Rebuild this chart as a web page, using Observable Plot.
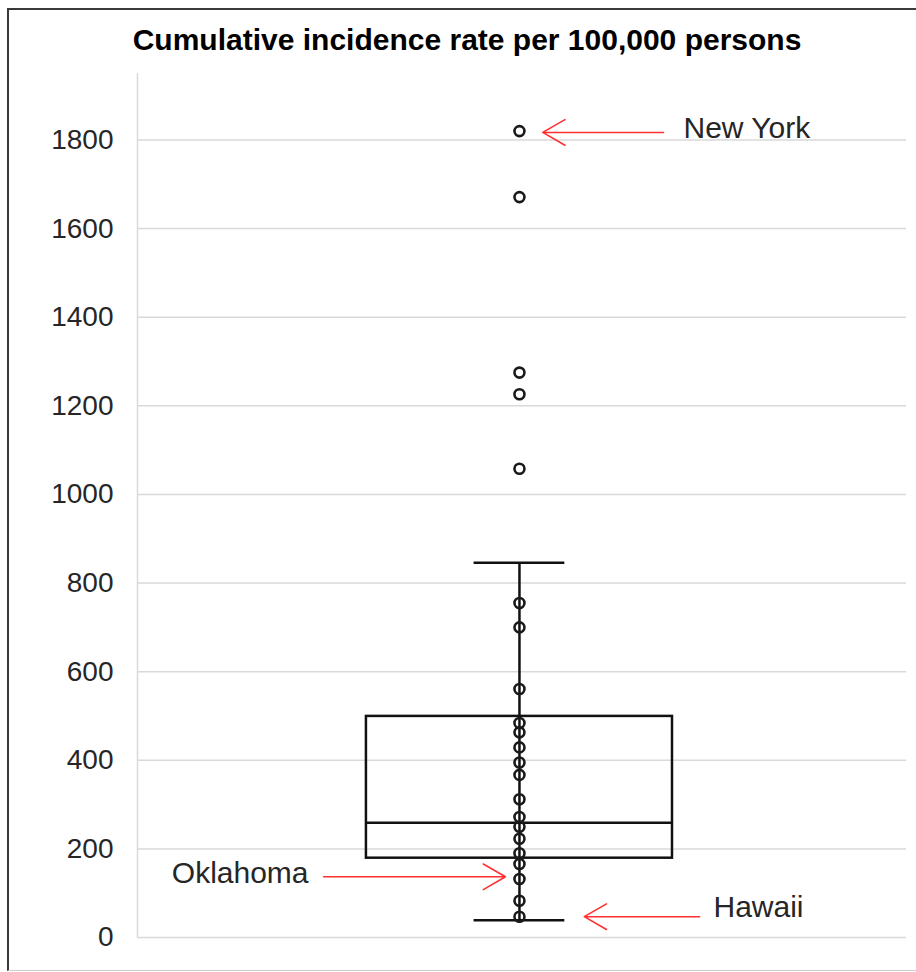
<!DOCTYPE html>
<html>
<head>
<meta charset="utf-8">
<script src="https://cdn.jsdelivr.net/npm/d3@7"></script>
<script src="https://cdn.jsdelivr.net/npm/@observablehq/plot@0.6"></script>
<style>
  html, body { margin: 0; padding: 0; background: #fff; }
  #wrap { position: relative; width: 916px; height: 972px; overflow: hidden; background: #fff; }
  #wrap svg { position: absolute; left: 0; top: 0; }
  #border { position: absolute; left: 7px; top: 8px; width: 930px; height: 960px;
            border-left: 2px solid #3a3a3a; border-top: 2px solid #3a3a3a;
            border-bottom: 1px solid #cfcfcf; pointer-events: none; }
</style>
</head>
<body>
<div id="wrap"></div>
<script>
// ---- data ----
const title = "Cumulative incidence rate per 100,000 persons";
const yTicks = [0, 200, 400, 600, 800, 1000, 1200, 1400, 1600, 1800];
const rates = [1820, 1671, 1275, 1226, 1058, 755, 700, 561, 484, 463, 429, 395, 367,
               312, 272, 250, 223, 190, 166, 132, 83, 47];
const statNames = ["whiskerLow", "q1", "median", "q3", "whiskerHigh"];
const statValues = [39, 179, 259, 499, 846];
const annotLabels = ["New York", "Oklahoma", "Hawaii"];
const annotArrowY = [1817, 137, 47];
const annotTextY = [1827, 145, 69];
const annotArrowFrom = [0.684, 0.242, 0.731];
const annotArrowTo = [0.527, 0.4785, 0.581];
const annotTextX = [0.710, 0.2224, 0.749];
const annotAnchor = ["start", "end", "start"];

// ---- derived ----
const stat = Object.fromEntries(statNames.map((n, i) => [n, statValues[i]]));
const boxX = 0.4967, boxHalf = 0.199, capHalf = 0.059;
const annots = annotLabels.map((label, i) => ({
  label, ay: annotArrowY[i], ty: annotTextY[i],
  x1: annotArrowFrom[i], x2: annotArrowTo[i], tx: annotTextX[i], anchor: annotAnchor[i]
}));
const font = "'Liberation Sans', Arial, Helvetica, sans-serif";
const lineCol = "#111";

const chart = Plot.plot({
  width: 916,
  height: 972,
  marginLeft: 137,
  marginRight: 10,
  marginTop: 73,
  marginBottom: 35,
  style: { fontFamily: font, background: "transparent", overflow: "visible" },
  x: { domain: [0, 1], axis: null },
  y: { domain: [0, 1950] },
  marks: [
    Plot.ruleY(yTicks, { stroke: "#d9d9d9", strokeWidth: 1.5 }),
    Plot.ruleX([0], { stroke: "#d9d9d9", strokeWidth: 1.5 }),
    Plot.axisY({ ticks: yTicks, tickSize: 0, tickPadding: 24, fontSize: 28,
                 fill: "#262626", label: null, tickFormat: d => String(d) }),
    // whisker
    Plot.ruleX([boxX], { y1: stat.whiskerLow, y2: stat.whiskerHigh, stroke: lineCol, strokeWidth: 2.5 }),
    Plot.ruleY([stat.whiskerLow, stat.whiskerHigh], { x1: boxX - capHalf, x2: boxX + capHalf, stroke: lineCol, strokeWidth: 2.5 }),
    // box
    Plot.rect([stat], { x1: boxX - boxHalf, x2: boxX + boxHalf, y1: "q1", y2: "q3",
                        fill: "none", stroke: lineCol, strokeWidth: 2.5 }),
    Plot.ruleY([stat.median], { x1: boxX - boxHalf, x2: boxX + boxHalf, stroke: lineCol, strokeWidth: 2.5 }),
    // points
    Plot.dot(rates, { x: () => boxX, y: d => d, r: 5, stroke: "#1a1a1a", strokeWidth: 2.6, fill: "none" }),
    // annotations
    Plot.arrow(annots, { x1: "x1", x2: "x2", y1: "ay", y2: "ay", stroke: "#ff3030",
                         strokeWidth: 1.6, headLength: 24, headAngle: 60 }),
    Plot.text(annots.filter(d => d.anchor === "start"), { x: "tx", y: "ty", text: "label", textAnchor: "start",
                        fontSize: 30, fill: "#262626" }),
    Plot.text(annots.filter(d => d.anchor === "end"), { x: "tx", y: "ty", text: "label", textAnchor: "end",
                        fontSize: 30, fill: "#262626" }),
    // title
    Plot.text([title], { x: () => 0.4285, frameAnchor: "top", lineAnchor: "middle", dy: -33, text: d => d,
                         fontSize: 30, fontWeight: "bold", fill: "#000" })
  ]
});
document.getElementById("wrap").appendChild(chart);
const b = document.createElement("div");
b.id = "border";
document.getElementById("wrap").appendChild(b);
</script>
</body>
</html>
